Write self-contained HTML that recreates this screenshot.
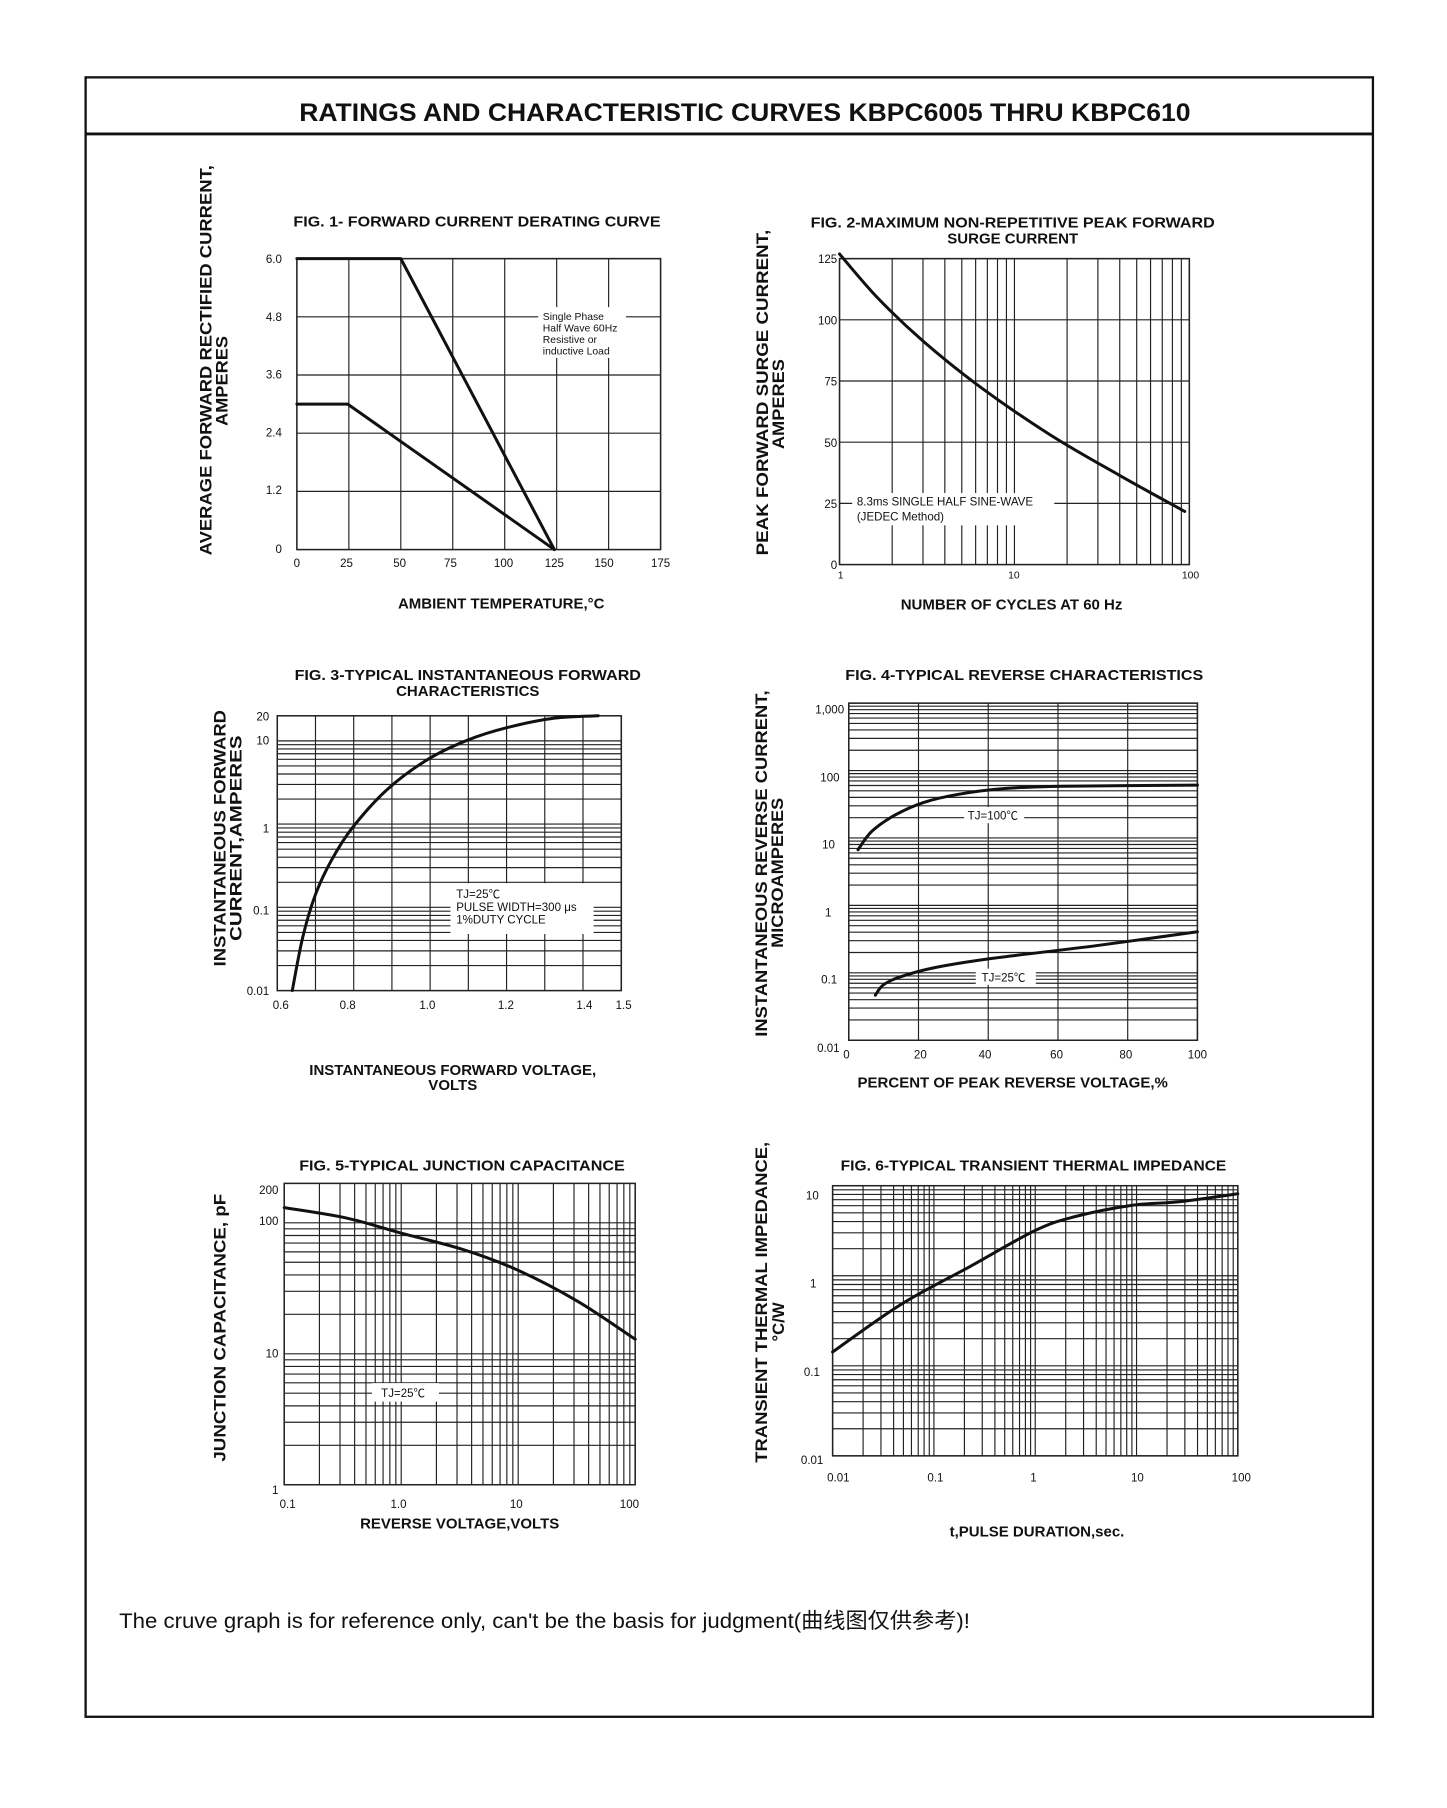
<!DOCTYPE html>
<html><head><meta charset="utf-8"><style>
html,body{margin:0;padding:0;background:#fff}
svg{display:block}
text{font-family:"Liberation Sans","Noto Sans CJK SC",sans-serif;fill:#111}
.t{font-size:10px}
.b{font-weight:bold;font-size:13px}
.yl{font-weight:bold;font-size:14.5px}
</style></head><body>
<svg id="s" xmlns="http://www.w3.org/2000/svg" width="1447" height="1808" viewBox="0 0 1253 1566">
<rect x="74" y="67" width="1115" height="1420" fill="none" stroke="#111" stroke-width="2"/>
<line x1="74" y1="116" x2="1189" y2="116" stroke="#111" stroke-width="2.5"/>
<text x="645" y="105" text-anchor="middle" font-weight="bold" font-size="22" textLength="772" lengthAdjust="spacingAndGlyphs">RATINGS AND CHARACTERISTIC CURVES KBPC6005 THRU KBPC610</text>
<g id="grids" stroke="#222" stroke-width="1" fill="none"></g>
<g id="curves" stroke="#111" stroke-width="2.6" fill="none" stroke-linejoin="round" stroke-linecap="round"></g>
<rect x="466" y="266" width="76" height="44" fill="#fff"/>
<rect x="738" y="427" width="175" height="28" fill="#fff"/>
<rect x="390" y="765" width="124" height="44" fill="#fff"/>
<rect x="835" y="699" width="52" height="14" fill="#fff"/>
<rect x="845" y="839" width="52" height="14" fill="#fff"/>
<rect x="322" y="1198" width="58" height="16" fill="#fff"/>
<text class="b" x="413" y="196" text-anchor="middle" textLength="318" lengthAdjust="spacingAndGlyphs">FIG. 1- FORWARD CURRENT DERATING CURVE</text>
<g class="t" text-anchor="end"><text x="244" y="228">6.0</text><text x="244" y="278">4.8</text><text x="244" y="328">3.6</text><text x="244" y="378">2.4</text><text x="244" y="428">1.2</text><text x="244" y="479">0</text></g>
<g class="t" text-anchor="middle"><text x="257" y="491">0</text><text x="300" y="491">25</text><text x="346" y="491">50</text><text x="390" y="491">75</text><text x="436" y="491">100</text><text x="480" y="491">125</text><text x="523" y="491">150</text><text x="572" y="491">175</text></g>
<g font-size="9"><text x="470" y="277">Single Phase</text><text x="470" y="287">Half Wave 60Hz</text><text x="470" y="297">Resistive or</text><text x="470" y="307">inductive Load</text></g>
<text class="b" x="434" y="527" text-anchor="middle">AMBIENT TEMPERATURE,°C</text>
<text class="yl" transform="translate(183,312) rotate(-90)" text-anchor="middle" textLength="338" lengthAdjust="spacingAndGlyphs">AVERAGE FORWARD RECTIFIED CURRENT,</text>
<text class="yl" transform="translate(197,330) rotate(-90)" text-anchor="middle" textLength="78" lengthAdjust="spacingAndGlyphs">AMPERES</text>
<text class="b" x="877" y="197" text-anchor="middle" textLength="350" lengthAdjust="spacingAndGlyphs">FIG. 2-MAXIMUM NON-REPETITIVE PEAK FORWARD</text>
<text class="b" x="877" y="211" text-anchor="middle">SURGE CURRENT</text>
<g class="t" text-anchor="end"><text x="725" y="228">125</text><text x="725" y="281">100</text><text x="725" y="334">75</text><text x="725" y="387">50</text><text x="725" y="440">25</text><text x="725" y="493">0</text></g>
<g font-size="9" text-anchor="middle"><text x="728" y="501">1</text><text x="878" y="501">10</text><text x="1031" y="501">100</text></g>
<g font-size="10"><text x="742" y="438">8.3ms SINGLE HALF SINE-WAVE</text><text x="742" y="451">(JEDEC Method)</text></g>
<text class="b" x="876" y="528" text-anchor="middle">NUMBER OF CYCLES AT 60 Hz</text>
<text class="yl" transform="translate(665,340) rotate(-90)" text-anchor="middle" textLength="282" lengthAdjust="spacingAndGlyphs">PEAK  FORWARD SURGE CURRENT,</text>
<text class="yl" transform="translate(679,350) rotate(-90)" text-anchor="middle" textLength="78" lengthAdjust="spacingAndGlyphs">AMPERES</text>
<text class="b" x="405" y="589" text-anchor="middle" textLength="300" lengthAdjust="spacingAndGlyphs">FIG. 3-TYPICAL INSTANTANEOUS FORWARD</text>
<text class="b" x="405" y="603" text-anchor="middle">CHARACTERISTICS</text>
<g class="t" text-anchor="end"><text x="233" y="624">20</text><text x="233" y="645">10</text><text x="233" y="721">1</text><text x="233" y="792">0.1</text><text x="233" y="862">0.01</text></g>
<g class="t" text-anchor="middle"><text x="243" y="874">0.6</text><text x="301" y="874">0.8</text><text x="370" y="874">1.0</text><text x="438" y="874">1.2</text><text x="506" y="874">1.4</text><text x="540" y="874">1.5</text></g>
<g font-size="10"><text x="395" y="778">TJ=25℃</text><text x="395" y="789">PULSE WIDTH=300 μs</text><text x="395" y="800">1%DUTY CYCLE</text></g>
<text class="b" x="392" y="931" text-anchor="middle">INSTANTANEOUS FORWARD VOLTAGE,</text>
<text class="b" x="392" y="944" text-anchor="middle">VOLTS</text>
<text class="yl" transform="translate(195,726) rotate(-90)" text-anchor="middle" textLength="222" lengthAdjust="spacingAndGlyphs">INSTANTANEOUS FORWARD</text>
<text class="yl" transform="translate(209,726) rotate(-90)" text-anchor="middle" textLength="178" lengthAdjust="spacingAndGlyphs">CURRENT,AMPERES</text>
<text class="b" x="887" y="589" text-anchor="middle" textLength="310" lengthAdjust="spacingAndGlyphs">FIG. 4-TYPICAL REVERSE CHARACTERISTICS</text>
<g class="t" text-anchor="end"><text x="731" y="618">1,000</text><text x="727" y="677">100</text><text x="723" y="735">10</text><text x="720" y="794">1</text><text x="725" y="852">0.1</text><text x="727" y="911">0.01</text></g>
<g class="t" text-anchor="middle"><text x="733" y="917">0</text><text x="797" y="917">20</text><text x="853" y="917">40</text><text x="915" y="917">60</text><text x="975" y="917">80</text><text x="1037" y="917">100</text></g>
<g font-size="10"><text x="838" y="710">TJ=100℃</text><text x="850" y="850">TJ=25℃</text></g>
<text class="b" x="877" y="942" text-anchor="middle">PERCENT OF PEAK REVERSE VOLTAGE,%</text>
<text class="yl" transform="translate(664,748) rotate(-90)" text-anchor="middle" textLength="300" lengthAdjust="spacingAndGlyphs">INSTANTANEOUS REVERSE CURRENT,</text>
<text class="yl" transform="translate(678,756) rotate(-90)" text-anchor="middle" textLength="130" lengthAdjust="spacingAndGlyphs">MICROAMPERES</text>
<text class="b" x="400" y="1014" text-anchor="middle" textLength="282" lengthAdjust="spacingAndGlyphs">FIG. 5-TYPICAL JUNCTION CAPACITANCE</text>
<g class="t" text-anchor="end"><text x="241" y="1034">200</text><text x="241" y="1061">100</text><text x="241" y="1176">10</text><text x="241" y="1294">1</text></g>
<g class="t" text-anchor="middle"><text x="249" y="1306">0.1</text><text x="345" y="1306">1.0</text><text x="447" y="1306">10</text><text x="545" y="1306">100</text></g>
<text font-size="10" x="330" y="1210">TJ=25℃</text>
<text class="b" x="398" y="1324" text-anchor="middle">REVERSE VOLTAGE,VOLTS</text>
<text class="yl" transform="translate(195,1150) rotate(-90)" text-anchor="middle" textLength="232" lengthAdjust="spacingAndGlyphs">JUNCTION CAPACITANCE, pF</text>
<text class="b" x="895" y="1014" text-anchor="middle" textLength="334" lengthAdjust="spacingAndGlyphs">FIG. 6-TYPICAL TRANSIENT THERMAL IMPEDANCE</text>
<g class="t" text-anchor="end"><text x="709" y="1039">10</text><text x="707" y="1115">1</text><text x="710" y="1192">0.1</text><text x="713" y="1268">0.01</text></g>
<g class="t" text-anchor="middle"><text x="726" y="1283">0.01</text><text x="810" y="1283">0.1</text><text x="895" y="1283">1</text><text x="985" y="1283">10</text><text x="1075" y="1283">100</text></g>
<text class="b" x="898" y="1331" text-anchor="middle">t,PULSE DURATION,sec.</text>
<text class="yl" transform="translate(664,1128) rotate(-90)" text-anchor="middle" textLength="278" lengthAdjust="spacingAndGlyphs">TRANSIENT THERMAL IMPEDANCE,</text>
<text class="yl" transform="translate(679,1145) rotate(-90)" text-anchor="middle">°C/W</text>
<text x="103" y="1410" font-size="18.5" textLength="737" lengthAdjust="spacingAndGlyphs">The cruve graph is for reference only, can't be the basis for judgment(曲线图仅供参考)!</text>
</svg>
<script>
var NS="http://www.w3.org/2000/svg",G=document.getElementById('grids'),C=document.getElementById('curves');
function L(x1,y1,x2,y2,w){var l=document.createElementNS(NS,'line');l.setAttribute('x1',x1);l.setAttribute('y1',y1);l.setAttribute('x2',x2);l.setAttribute('y2',y2);if(w)l.setAttribute('stroke-width',w);G.appendChild(l);}
function R(x0,y0,x1,y1){var r=document.createElementNS(NS,'rect');r.setAttribute('x',x0);r.setAttribute('y',y0);r.setAttribute('width',x1-x0);r.setAttribute('height',y1-y0);r.setAttribute('stroke-width',1.3);G.appendChild(r);}
function logs(a,b){var o=[];for(var d=a;d<b;d++)for(var m=1;m<10;m++){o.push(Math.log10(m)+d);}o.push(b);return o;}
function vlog(x0,x1,a,b,y0,y1){logs(a,b).forEach(function(v){var x=x0+(v-a)/(b-a)*(x1-x0);L(x,y0,x,y1);});}
function hlog(y0,y1,a,b,x0,x1,top){logs(a,b).forEach(function(v){if(v>top+1e-9)return;var y=y1-(v-a)/(top-a)*(y1-y0);L(x0,y,x1,y);});}
function path(pts){var d='M'+pts[0][0]+' '+pts[0][1];for(var i=0;i<pts.length-1;i++){var p0=pts[i-1]||pts[i],p1=pts[i],p2=pts[i+1],p3=pts[i+2]||p2;d+=' C'+(p1[0]+(p2[0]-p0[0])/6)+' '+(p1[1]+(p2[1]-p0[1])/6)+' '+(p2[0]-(p3[0]-p1[0])/6)+' '+(p2[1]-(p3[1]-p1[1])/6)+' '+p2[0]+' '+p2[1];}var p=document.createElementNS(NS,'path');p.setAttribute('d',d);C.appendChild(p);}
for(var i=0;i<=7;i++)L(257+i*45,224,257+i*45,476);for(i=0;i<=5;i++)L(257,224+i*50.4,572,224+i*50.4);R(257,224,572,476);
var p=document.createElementNS(NS,'polyline');p.setAttribute('points','257,224 347,224 480,476');C.appendChild(p);
p=document.createElementNS(NS,'polyline');p.setAttribute('points','257,350 301,350 480,476');C.appendChild(p);
vlog(727,1030,0,2,224,489);for(i=0;i<=5;i++)L(727,224+i*53,1030,224+i*53);R(727,224,1030,489);
path([[727,220],[760,258],[800,296],[850,336],[910,377],[970,412],[1026,443]]);
for(i=0;i<=9;i++)L(240+i*33.1,620,240+i*33.1,858);hlog(620,858,-2,1,240,538,Math.log10(20));L(240,620,538,620);R(240,620,538,858);
path([[253,858],[262,812],[273,775],[287,745],[305,717],[335,684],[370,658],[405,641],[440,630],[480,622],[518,620]]);
for(i=0;i<=5;i++)L(735+i*60.4,609,735+i*60.4,901);hlog(609,901,-2,3,735,1037,3);R(735,609,1037,901);
path([[743,736],[755,720],[775,706],[800,695],[830,688],[870,683],[920,681],[1037,680]]);
path([[758,862],[765,853],[780,846],[810,838],[860,830],[950,819],[1037,807]]);
vlog(246,550,-1,2,1025,1286);hlog(1025,1286,0,3,246,550,Math.log10(200));R(246,1025,550,1286);
path([[246,1046],[300,1055],[347,1068],[400,1082],[448,1100],[500,1127],[550,1160]]);
vlog(721,1072,-2,2,1027,1261);hlog(1027,1261,-2,1,721,1072,1);R(721,1027,1072,1261);
path([[721,1171],[780,1130],[840,1097],[896,1066],[930,1054],[980,1044],[1020,1041],[1072,1034]]);
</script>
</body></html>
